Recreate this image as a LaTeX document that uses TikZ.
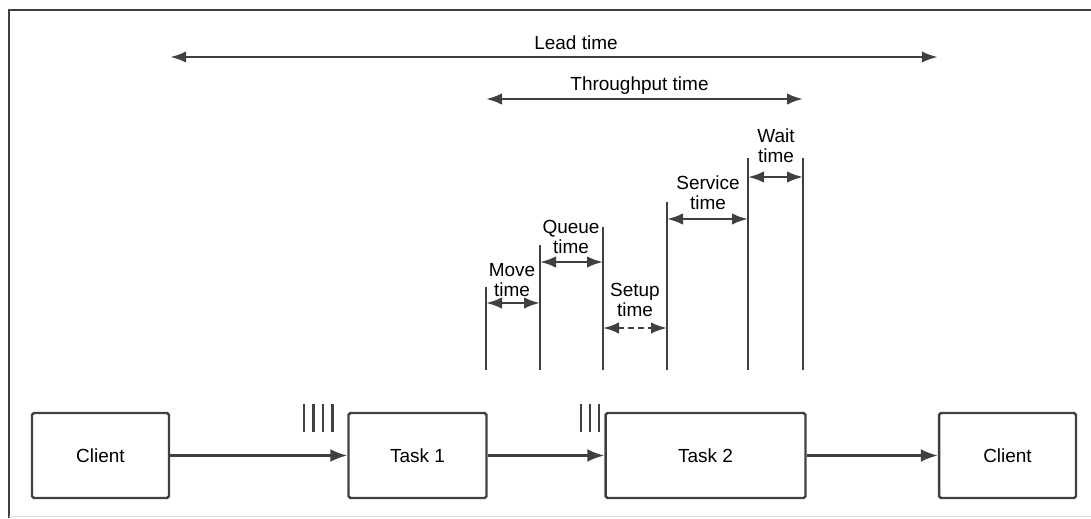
\documentclass[tikz,border=0pt]{standalone}
\usepackage{fontspec}
\setmainfont{Liberation Sans}
\usetikzlibrary{arrows.meta}
\begin{document}
\begin{tikzpicture}[x=0.02cm,y=-0.02cm,line width=1.4pt,color=black!75,text=black]
    \tikzset{
        box/.style={draw, minimum height=1.7cm, minimum width=#1, inner sep=0pt, rounded corners=1pt},
        flow/.style={-{Latex[length=3.4mm,width=2.6mm]}},
        span/.style={{Latex[length=3.2mm,width=2.3mm]}-{Latex[length=3.2mm,width=2.3mm]}},
        lbl/.style={align=center, inner sep=0pt, font=\fontsize{10.8}{11.5}\selectfont},
    }
    \useasboundingbox (0,0) rectangle (1091,518);
    \draw (1091,10) -- (9,10) -- (9,518);
    \draw [black!12, line width=0.6pt] (9,516.5) -- (1091,516.5);
    % the chain of boxes
    \begin{scope}[font=\fontsize{10.8}{12}\selectfont]
        \node [box=2.74cm] (client1) at (100.5,455.5) {Client};
        \node [box=2.76cm] (task1) at (417.5,455.5) {Task 1};
        \node [box=4cm] (task2) at (705.5,455.5) {Task 2};
        \node [box=2.74cm] (client2) at (1007.5,455.5) {Client};
    \end{scope}
    \draw [flow] (client1) -- (task1);
    \draw [flow] (task1) -- (task2);
    \draw [flow] (task2) -- (client2);
    % waiting jobs
    \foreach \x in {304,313.5,323,332.5} \draw (\x,404) -- (\x,432);
    \foreach \x in {581,590,599} \draw (\x,404) -- (\x,432);
    % time marks
    \foreach \x/\t [count=\i] in {486/287,540/245,603/227,667/202,748/158,803/158}{
        \coordinate (top\i) at (\x,\t);
        \coordinate (bot\i) at (\x,370);
        \draw (top\i) -- (bot\i);
    }
    \draw [span] (bot1 |- 0,303) -- (bot2 |- 0,303);
    \draw [span] (bot2 |- 0,262) -- (bot3 |- 0,262);
    \draw [span, dash pattern=on 0.12cm off 0.08cm] (bot3 |- 0,328) -- (bot4 |- 0,328);
    \draw [span] (bot4 |- 0,219) -- (bot5 |- 0,219);
    \draw [span] (bot5 |- 0,177) -- (bot6 |- 0,177);
    \node [lbl] (move) at (512,280) {Move\\time};
    \node [lbl] (queue) at (571,237) {Queue\\time};
    \node [lbl] (setup) at (635,300) {Setup\\time};
    \node [lbl] (service) at (708,193) {Service\\time};
    \node [lbl] (wait) at (776,146) {Wait\\time};
    % overall spans
    \draw [span] (client1.east |- 0,57) -- (client2.west |- 0,57);
    \draw [span] (top1 |- 0,99) -- (top6 |- 0,99);
    \node [lbl] (lead) at (576,43) {Lead time};
    \node [lbl] (through) at (639.5,86) {Throughput time};
\end{tikzpicture}
\end{document}
